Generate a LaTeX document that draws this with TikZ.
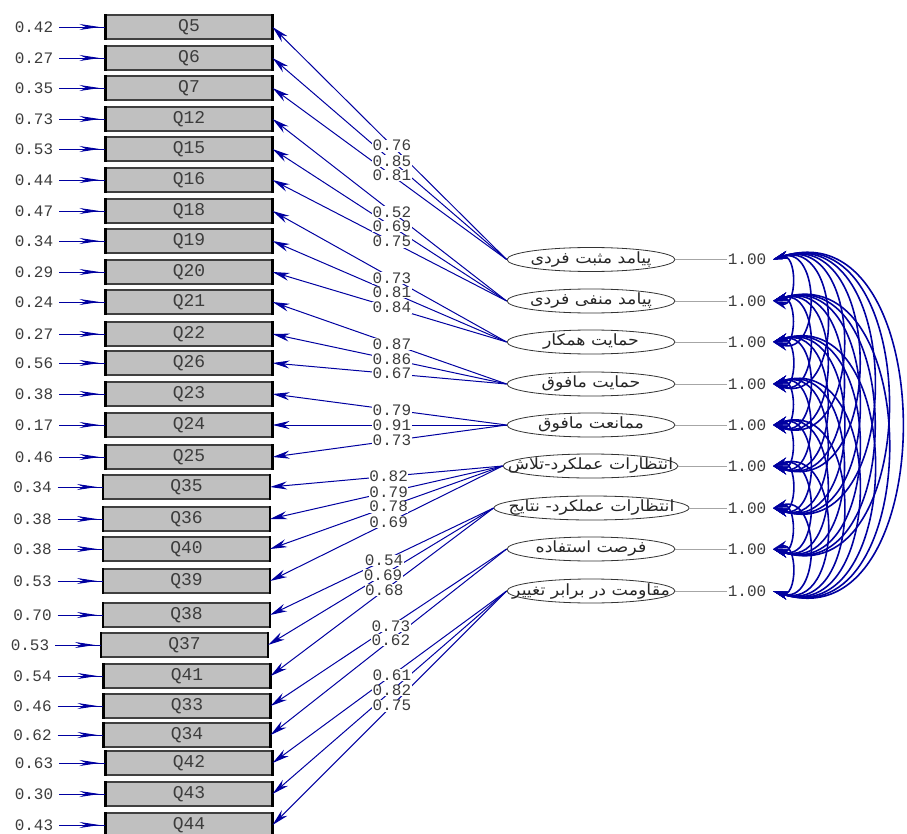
\documentclass[tikz,border=0pt]{standalone}
\usepackage{fontspec}
\setmonofont{Liberation Mono}
\newfontfamily\arabicfont[Script=Arabic,FakeStretch=1.12]{DejaVu Sans}
\TeXXeTstate=1
\usetikzlibrary{arrows.meta,shapes.geometric}
\definecolor{lblue}{RGB}{0,0,160}
\definecolor{boxgray}{RGB}{192,192,192}
\definecolor{numgray}{RGB}{60,60,60}
\begin{document}
\begin{tikzpicture}[x=1pt,y=-1pt,
  obs/.style={draw=black!75, line width=1.1pt, fill=boxgray, minimum width=166pt, minimum height=24pt, inner sep=0pt, font=\ttfamily\fontsize{18}{18}\selectfont, text=numgray},
  lat/.style={ellipse, draw=black!80, line width=0.8pt, fill=white, minimum height=24pt, inner sep=0pt},
  lattext/.style={font=\arabicfont\fontsize{15.5}{15.5}\selectfont, text=black!85, inner sep=0pt},
  num/.style={font=\ttfamily\fontsize{16}{16}\selectfont, text=numgray, inner sep=1pt},
  lnum/.style={num, fill=white, inner sep=0.5pt},
  load/.style={draw=lblue, line width=1pt, -{Stealth[length=17pt,width=8pt]}},
  errline/.style={draw=lblue, line width=0.9pt, shorten <=5pt},
  errhead/.style={draw=lblue, line width=0.9pt, shorten <=5pt, shorten >=6pt, -{Stealth[length=20pt,width=6pt]}},
  cov/.style={draw=lblue, line width=1.6pt, {Stealth[length=15pt,width=8pt]}-{Stealth[length=15pt,width=8pt]}},
  glink/.style={draw=black!35, line width=0.8pt},
]
\useasboundingbox (0,0) rectangle (907,834);

% observed variables and error terms
\foreach \n/\y/\x/\e/\ex in {
  Q5/27/189/0.42/34, Q6/58/189/0.27/34, Q7/88/189/0.35/34, Q12/119/189/0.73/34,
  Q15/149/189/0.53/34, Q16/180/189/0.44/34, Q18/211/189/0.47/34, Q19/241/189/0.34/34,
  Q20/272/189/0.29/34, Q21/302/189/0.24/34, Q22/334/189/0.27/34, Q26/363/189/0.56/34,
  Q23/394/189/0.38/34, Q24/425/189/0.17/34, Q25/457/189/0.46/34, Q35/487/186.5/0.34/32.5,
  Q36/519/186.5/0.38/32.5, Q40/549/186.5/0.38/32.5, Q39/581/186.5/0.53/32.5,
  Q38/615/186.5/0.70/32.5, Q37/645/184.5/0.53/30, Q41/676/187/0.54/32.5,
  Q33/706/187/0.46/32.5, Q34/735/187/0.62/32.5, Q42/763/189/0.63/34,
  Q43/794/189/0.30/34, Q44/825/189/0.43/34} {
  \node[obs] (\n) at (\x,\y) {\n};
  \draw[black, line width=2.4pt] (\n.north west) -- (\n.south west);
  \draw[black, line width=2.4pt] (\n.north east) -- (\n.south east);
  \node[num] (e\n) at (\ex,\y) {\e};
  \draw[errline] (e\n.east) -- (\n.west);
  \draw[errhead] (e\n.east) -- (\n.west);
}

% latent variables
\foreach \i/\y/\x/\w/\t in {
  1/259.5/591/168/{پیامد مثبت فردی},
  2/301/591/168/{پیامد منفی فردی},
  3/342/591/168/{حمایت همکار},
  4/384/591/168/{حمایت مافوق},
  5/425/591/168/{ممانعت مافوق},
  6/466/590.5/175/{انتظارات عملکرد-تلاش},
  7/508/591.5/195/{انتظارات عملکرد- نتایج},
  8/549/591/168/{فرصت استفاده},
  9/591/591/168/{مقاومت در برابر تغییر}} {
  \node[lat, minimum width=\w pt] (f\i) at (\x,\y) {};
  \node[lattext] (t\i) at (\x,\y) {\beginR\t\endR};
  \node[num] (v\i) at (747,\y) {1.00};
  \draw[glink] (f\i.east) -- (v\i.west);
  \coordinate (c\i) at (773,\y);
}

% loadings
\foreach \f/\q/\v in {
  1/Q5/0.76, 1/Q6/0.85, 1/Q7/0.81,
  2/Q12/0.52, 2/Q15/0.69, 2/Q16/0.75,
  3/Q18/0.73, 3/Q19/0.81, 3/Q20/0.84,
  4/Q21/0.87, 4/Q22/0.86, 4/Q26/0.67,
  5/Q23/0.79, 5/Q24/0.91, 5/Q25/0.73,
  6/Q35/0.82, 6/Q36/0.79, 6/Q40/0.78, 6/Q39/0.69,
  7/Q38/0.54, 7/Q37/0.69, 7/Q41/0.68,
  8/Q33/0.73, 8/Q34/0.62,
  9/Q42/0.61, 9/Q43/0.82, 9/Q44/0.75} {
  \draw[load] (f\f.west) -- (\q.east);
}
\foreach \f/\q/\v in {
  1/Q5/0.76, 1/Q6/0.85, 1/Q7/0.81,
  2/Q12/0.52, 2/Q15/0.69, 2/Q16/0.75,
  3/Q18/0.73, 3/Q19/0.81, 3/Q20/0.84,
  4/Q21/0.87, 4/Q22/0.86, 4/Q26/0.67,
  5/Q23/0.79, 5/Q24/0.91, 5/Q25/0.73,
  6/Q35/0.82, 6/Q36/0.79, 6/Q40/0.78, 6/Q39/0.69,
  7/Q38/0.54, 7/Q37/0.69, 7/Q41/0.68,
  8/Q33/0.73, 8/Q34/0.62,
  9/Q42/0.61, 9/Q43/0.82, 9/Q44/0.75} {
  \path (f\f.west) -- node[lnum, pos=0.49] (l\q) {\v} (\q.east);
}

% covariances
\foreach \i in {1,...,8} {
  \pgfmathtruncatemacro\ni{\i+1}
  \foreach \j in {\ni,...,9} {
    \pgfmathsetmacro\lo{1.6-0.03*(\j-\i-1)}
    \draw[cov] (c\i) to[out=18, in=-18, looseness=\lo] (c\j);
  }
}
\end{tikzpicture}
\end{document}
